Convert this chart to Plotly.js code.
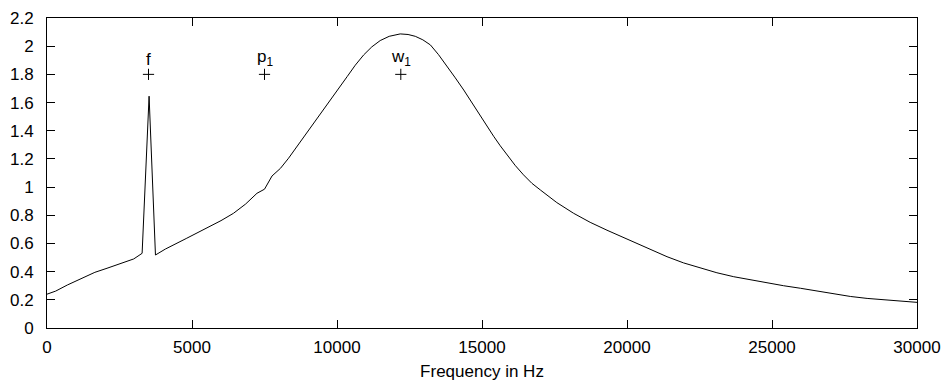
<!DOCTYPE html>
<html>
<head>
<meta charset="utf-8">
<script src="https://cdn.plot.ly/plotly-3.0.1.min.js"></script>
<style>html,body{margin:0;padding:0;background:#fff;}#chart{width:946px;height:391px;}</style>
</head>
<body>
<div id="chart"></div>
<script>
const freqHz = [0, 300, 700, 1250, 1650, 2070, 2500, 2990, 3280, 3520, 3740, 3900, 4080, 4800, 5630, 6000, 6430, 6850, 7240, 7500, 7760, 8050, 8330, 8620, 8900, 9190, 9480, 9770, 10060, 10350, 10630, 10920, 11200, 11490, 11800, 12180, 12450, 12700, 12960, 13220, 13500, 13790, 14080, 14370, 14650, 14940, 15170, 15400, 15630, 15860, 16140, 16430, 16720, 17010, 17580, 18160, 18730, 19310, 19770, 20230, 20800, 21380, 21950, 22530, 23100, 23680, 24250, 24830, 25400, 25980, 26550, 27130, 27700, 28280, 28850, 29420, 30000];
const response = [0.240, 0.262, 0.305, 0.360, 0.395, 0.424, 0.455, 0.490, 0.530, 1.645, 0.518, 0.540, 0.560, 0.635, 0.719, 0.762, 0.814, 0.880, 0.956, 0.985, 1.079, 1.133, 1.205, 1.287, 1.370, 1.453, 1.537, 1.618, 1.700, 1.784, 1.865, 1.938, 1.995, 2.040, 2.070, 2.087, 2.083, 2.070, 2.045, 2.009, 1.940, 1.860, 1.775, 1.689, 1.598, 1.504, 1.431, 1.361, 1.293, 1.228, 1.155, 1.087, 1.027, 0.980, 0.890, 0.814, 0.750, 0.694, 0.652, 0.612, 0.557, 0.506, 0.462, 0.424, 0.392, 0.364, 0.341, 0.320, 0.300, 0.282, 0.262, 0.241, 0.224, 0.210, 0.199, 0.190, 0.182];
const markFreq = [3500, 7500, 12200];
const markLevel = [1.8, 1.8, 1.8];
const markLabels = ['f', 'p<sub>1</sub>', 'w<sub>1</sub>'];

const fnt = {family: 'Liberation Sans, Arial, sans-serif', size: 17, color: '#000'};

const traces = [
  {x: freqHz, y: response, type: 'scatter', mode: 'lines', line: {color: '#000', width: 1}, hoverinfo: 'skip'},
  {x: markFreq, y: markLevel, type: 'scatter', mode: 'markers',
   marker: {symbol: 'cross-thin', size: 8, line: {color: '#000', width: 1}}, hoverinfo: 'skip'}
];

const annotations = markFreq.map((xv, i) => ({
  x: xv, y: markLevel[i], xref: 'x', yref: 'y', text: markLabels[i], showarrow: false,
  xanchor: 'center', yanchor: 'bottom', yshift: 3, font: fnt
}));

const axisCommon = {showline: true, linecolor: '#000', linewidth: 1, mirror: 'allticks', ticks: 'inside', ticklen: 8,
  tickcolor: '#000', tickwidth: 1, showgrid: false, zeroline: false, tickfont: fnt};

const layout = {
  width: 946, height: 391,
  margin: {l: 47, r: 29, t: 18, b: 63},
  paper_bgcolor: '#fff', plot_bgcolor: '#fff',
  showlegend: false,
  font: fnt,
  annotations: annotations,
  xaxis: Object.assign({}, axisCommon, {range: [0, 30000], dtick: 5000, tick0: 0, tickformat: 'd', ticklabelstandoff: 4,
    title: {text: 'Frequency in Hz', font: fnt, standoff: 8}}),
  yaxis: Object.assign({}, axisCommon, {range: [0, 2.2], dtick: 0.2, tick0: 0, ticklabelstandoff: 9})
};

Plotly.newPlot('chart', traces, layout, {displayModeBar: false, staticPlot: true});
</script>
</body>
</html>
